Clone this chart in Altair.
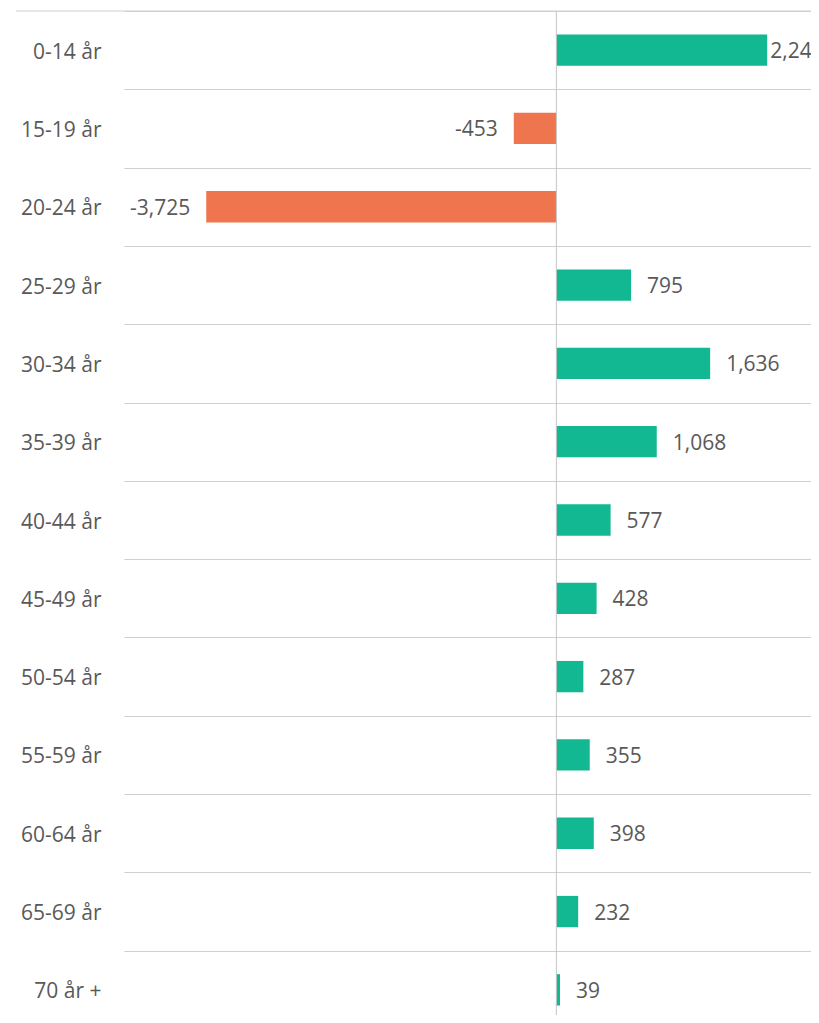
import altair as alt
import pandas as pd

categories = ["0-14 år", "15-19 år", "20-24 år", "25-29 år", "30-34 år", "35-39 år",
              "40-44 år", "45-49 år", "50-54 år", "55-59 år", "60-64 år", "65-69 år", "70 år +"]
values = [2243, -453, -3725, 795, 1636, 1068, 577, 428, 287, 355, 398, 232, 39]

df = pd.DataFrame({"cat": categories, "value": values})

GREEN = "#12B891"
ORANGE = "#EE754D"
TEXT = "#595959"
GRID = "#cfcfcf"
FONT = "Open Sans"
W, H = 687, 1004
BAND_RANGE = 1018

y_scale = alt.Scale(paddingInner=0, paddingOuter=0, range=[0, BAND_RANGE])
y_enc = alt.Y("cat:N", sort=categories, title=None, scale=y_scale,
              axis=alt.Axis(labels=True, ticks=False, domain=False, grid=True,
                            tickBand="extent", gridColor=GRID, gridWidth=1,
                            labelFont=FONT, labelFontSize=21, labelColor=TEXT,
                            labelPadding=23, labelAlign="right", labelOffset=2))
x_enc = alt.X("value:Q", title=None,
              scale=alt.Scale(domain=[-4600, 2709], nice=False, zero=False),
              axis=None)

base = alt.Chart(df).transform_calculate(
    label="(datum.value < 0 ? '-' : '') + format(abs(datum.value), ',')"
)

bars = base.mark_bar(height=alt.RelativeBandSize(0.4)).encode(
    y=y_enc, x=x_enc,
    color=alt.condition(alt.datum.value < 0, alt.value(ORANGE), alt.value(GREEN)),
)

def labels(filt, align, dx):
    return base.transform_filter(filt).mark_text(
        align=align, baseline="middle", dx=dx, dy=2, font=FONT, fontSize=21, color=TEXT
    ).encode(y=alt.Y("cat:N", sort=categories), x="value:Q", text="label:N")

pos_labels = labels("datum.value >= 0 && datum.value < 2000", "left", 16)
top_label = labels("datum.value >= 2000", "left", 3)
neg_labels = labels("datum.value < 0", "right", -16)

zero_line = alt.Chart(pd.DataFrame({"z": [0]})).mark_rule(color="#c4c4c4", strokeWidth=1).encode(
    x=alt.X("z:Q"), y=alt.value(0), y2=alt.value(BAND_RANGE)
)

top_line = alt.Chart(pd.DataFrame({"z": [0]})).mark_rule(color=GRID, strokeWidth=1).encode(
    x=alt.value(-108), x2=alt.value(W), y=alt.value(0)
)

chart = alt.layer(bars, zero_line, top_line, pos_labels, top_label, neg_labels).properties(
    width=W, height=H,
    padding={"left": 116, "top": 3, "right": 0, "bottom": 0},
    autosize=alt.AutoSizeParams(type="none"),
).configure_view(stroke=None)

chart.save("out.html", embed_options={"renderer": "svg", "actions": False})
